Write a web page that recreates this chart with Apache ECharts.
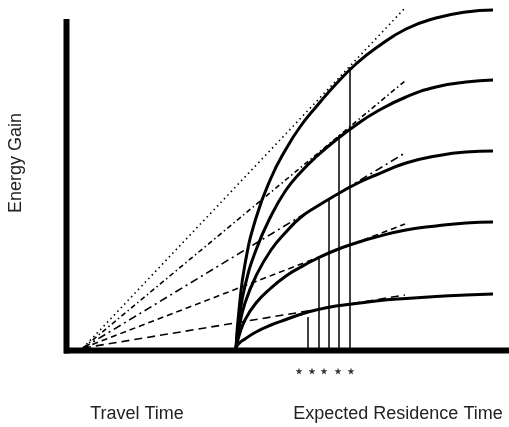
<!DOCTYPE html>
<html>
<head>
<meta charset="utf-8">
<script src="https://cdn.jsdelivr.net/npm/echarts@6/dist/echarts.min.js"></script>
<style>
  html, body { margin: 0; padding: 0; background: #fff; }
  #chart { width: 509px; height: 427px; }
</style>
</head>
<body>
<div id="chart"></div>
<script>
// ---- data ----
// residence time sample points (t = 0 is the start of patch residence)
const residenceT = [0, 0.3, 0.9, 2, 3.5, 5, 6.4, 8, 10, 12, 14, 17, 20, 23, 25.7];
// energy gain curves, richest patch first
const gain1 = [0, 3.8, 8.4, 13.0, 17.0, 19.9, 22.1, 24.1, 26.4, 28.4, 30.0, 31.9, 33.0, 33.6, 33.8];
const gain2 = [0, 2.8, 6.2, 9.8, 13.2, 15.8, 17.5, 19.1, 20.8, 22.3, 23.6, 25.1, 26.1, 26.6, 26.8];
const gain3 = [0, 2.0, 4.5, 7.2, 9.8, 11.6, 13.0, 14.1, 15.3, 16.4, 17.3, 18.5, 19.2, 19.6, 19.7];
const gain4 = [0, 1.2, 2.8, 4.5, 6.0, 7.2, 8.05, 8.9, 9.8, 10.5, 11.1, 11.8, 12.2, 12.5, 12.6];
const gain5 = [0, 0.45, 0.9, 1.6, 2.3, 2.85, 3.35, 3.8, 4.2, 4.45, 4.7, 4.95, 5.15, 5.3, 5.4];
const gains = [gain1, gain2, gain3, gain4, gain5];

// tangent lines from the travel-time point
const travelT = -15.3;
const tangentEndT = 16.9;
const tangentEndG = [34.0, 26.7, 19.5, 12.4, 5.3];

// vertical markers at the optimal residence times
const markerT = [11.4, 10.3, 9.3, 8.3, 7.2];
const markerG = [28.1, 21.3, 15.0, 9.0, 3.1];

// stars below the axis
const starT = [6.3, 7.6, 8.8, 10.2, 11.5];
const starG = -2.3;

// labels
const yLabel = 'Energy Gain';
const travelLabel = 'Travel Time';
const residenceLabel = 'Expected Residence Time';

// ---- chart ----
const dashStyles = [[1.5, 3.5], [5, 3, 1.5, 3], [8, 4, 2, 4], [6, 4], [8, 5]];
const series = [];

// axes drawn as thick bars
series.push({
  type: 'line', data: [[-17.2, -0.25], [27.3, -0.25]], symbol: 'none', silent: true,
  lineStyle: { color: '#000', width: 6, cap: 'butt' }, z: 5
});
series.push({
  type: 'line', data: [[-16.95, -0.55], [-16.95, 32.9]], symbol: 'none', silent: true,
  lineStyle: { color: '#000', width: 6, cap: 'butt' }, z: 5
});

// tangent lines
tangentEndG.forEach((g, i) => {
  series.push({
    type: 'line', data: [[travelT, 0], [tangentEndT, g]], symbol: 'none', silent: true,
    lineStyle: { color: '#000', width: 1.6, type: dashStyles[i] }, z: 2
  });
});

// gain curves
gains.forEach(arr => {
  series.push({
    type: 'line', data: residenceT.map((t, j) => [t, arr[j]]), symbol: 'none', silent: true,
    smooth: 0.5,
    lineStyle: { color: '#000', width: 3, join: 'round' }, z: 4
  });
});

// vertical markers
markerT.forEach((t, i) => {
  series.push({
    type: 'line', data: [[t, 0], [t, markerG[i]]], symbol: 'none', silent: true,
    lineStyle: { color: '#000', width: 1.5 }, z: 3
  });
});

// stars
series.push({
  type: 'scatter', data: starT.map(t => [t, starG]), silent: true,
  symbol: 'path://M50,0 L61,35 L98,35 L68,57 L79,91 L50,70 L21,91 L32,57 L2,35 L39,35 Z',
  symbolSize: 7, itemStyle: { color: '#000' }
});

const chart = echarts.init(document.getElementById('chart'), null, { renderer: 'canvas' });
chart.setOption({
  animation: false,
  backgroundColor: '#fff',
  grid: { left: 0, right: 0, top: 0, bottom: 0 },
  xAxis: {
    type: 'value', min: -23.6, max: 27.3,
    axisLine: { show: false }, axisTick: { show: false },
    axisLabel: { show: false }, splitLine: { show: false }
  },
  yAxis: {
    type: 'value', min: -7.9, max: 34.8,
    axisLine: { show: false }, axisTick: { show: false },
    axisLabel: { show: false }, splitLine: { show: false }
  },
  series: series,
  graphic: [
    {
      type: 'text', x: 16, y: 163, rotation: Math.PI / 2,
      style: { text: yLabel, x: 0, y: 0, align: 'center', verticalAlign: 'middle',
               fill: '#222', font: '18px "Liberation Sans", Arial, sans-serif' }
    },
    {
      type: 'text', x: 137, y: 414,
      style: { text: travelLabel, align: 'center', verticalAlign: 'middle',
               fill: '#222', font: '18px "Liberation Sans", Arial, sans-serif' }
    },
    {
      type: 'text', x: 398, y: 414,
      style: { text: residenceLabel, align: 'center', verticalAlign: 'middle',
               fill: '#222', font: '18px "Liberation Sans", Arial, sans-serif' }
    }
  ]
});
</script>
</body>
</html>
